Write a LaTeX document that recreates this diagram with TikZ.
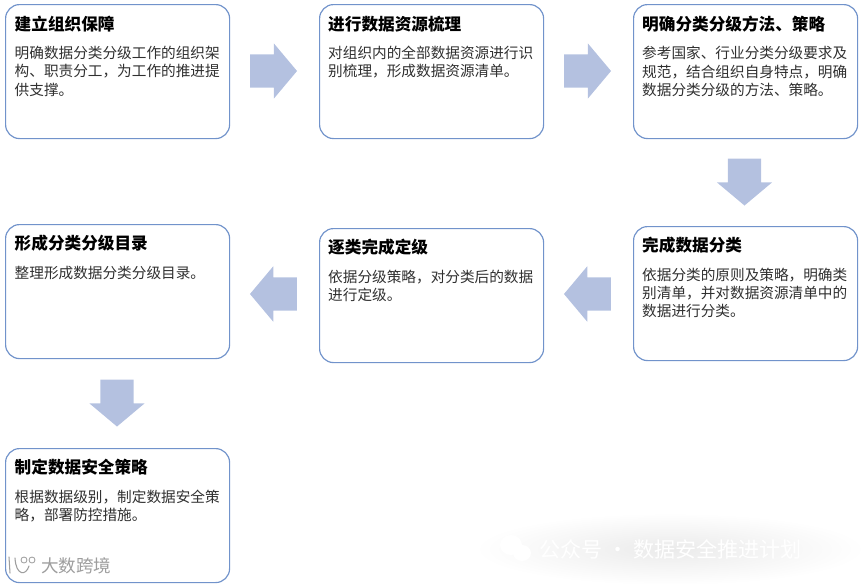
\documentclass[tikz,border=0pt]{standalone}
\usepackage{fontspec}
\setmainfont{Noto Sans CJK SC}
\usetikzlibrary{positioning,shapes.arrows}
\definecolor{BoxBlue}{HTML}{7193CB}
\definecolor{ArrowBlue}{HTML}{B4C1E0}
\definecolor{BodyGray}{HTML}{303030}
\tikzset{
  stepbox/.style={draw=BoxBlue,line width=1pt,fill=white,rounded corners=.42cm,
    minimum width=6.72cm,minimum height=4.02cm,inner sep=0pt,anchor=north west},
  steptitle/.style={font=\fontsize{14.2}{17}\selectfont\bfseries,inner sep=0pt,anchor=north west},
  stepbody/.style={font=\fontsize{12.5}{15.6}\selectfont,text=BodyGray,align=left,inner sep=0pt,anchor=north west},
  flowarrow/.style={single arrow,fill=ArrowBlue,draw=none,inner sep=0pt,
    text height=.99cm,text depth=0pt,text width=0pt,
    minimum height=1.41cm,single arrow head extend=.33cm,
    single arrow tip angle=100},
  markfaint/.style={inner sep=0pt,text=white,font=\fontsize{18}{20}\selectfont},
}
\begin{document}
\begin{tikzpicture}[x=.03cm,y=-.03cm,line cap=round,line join=round]
  \useasboundingbox (0,0) rectangle (863,583);

  % top row
  \node[stepbox] (organize) at (5,4) {};
  \node[stepbox] (inventory) at (319,4) {};
  \node[stepbox] (method) at (633,4) {};
  % middle row
  \node[stepbox] (classify) at (633,226) {};
  \node[stepbox] (grade) at (319,228) {};
  \node[stepbox] (catalog) at (5,224) {};
  % last box
  \node[stepbox] (policy) at (5,448) {};

  \node[steptitle] (organizetitle) at (14.5,15.5) {建立组织保障};
  \node[stepbody,below=.42cm of organizetitle.south west,anchor=north west] {明确数据分类分级工作的组织架\\构、职责分工，为工作的推进提\\供支撑。};
  \node[steptitle] (inventorytitle) at (328,15.5) {进行数据资源梳理};
  \node[stepbody,below=.42cm of inventorytitle.south west,anchor=north west] {对组织内的全部数据资源进行识\\别梳理，形成数据资源清单。};
  \node[steptitle] (methodtitle) at (642,15.5) {明确分类分级方法、策略};
  \node[stepbody,below=.42cm of methodtitle.south west,anchor=north west] {参考国家、行业分类分级要求及\\规范，结合组织自身特点，明确\\数据分类分级的方法、策略。};
  \node[steptitle] (classifytitle) at (642,237) {完成数据分类};
  \node[stepbody,below=.42cm of classifytitle.south west,anchor=north west] {依据分类的原则及策略，明确类\\别清单，并对数据资源清单中的\\数据进行分类。};
  \node[steptitle] (gradetitle) at (328,239) {逐类完成定级};
  \node[stepbody,below=.42cm of gradetitle.south west,anchor=north west] {依据分级策略，对分类后的数据\\进行定级。};
  \node[steptitle] (catalogtitle) at (14.5,235) {形成分类分级目录};
  \node[stepbody,below=.42cm of catalogtitle.south west,anchor=north west] {整理形成数据分类分级目录。};
  \node[steptitle] (policytitle) at (14.5,459) {制定数据安全策略};
  \node[stepbody,below=.42cm of policytitle.south west,anchor=north west] {根据数据级别，制定数据安全策\\略，部署防控措施。};

  % arrows between the boxes
  \node[flowarrow] (arrowa) at (266.5,71) {};
  \node[flowarrow] (arrowb) at (580.5,71) {};
  \node[flowarrow,rotate=-90] (arrowc) at (744.5,175) {};
  \node[flowarrow,rotate=180] (arrowd) at (594.5,294) {};
  \node[flowarrow,rotate=180] (arrowe) at (280.5,294) {};
  \node[flowarrow,rotate=-90] (arrowf) at (117,396) {};

  % watermarks
  \shade[inner color=black!8,outer color=white,draw=none] (670,549) ellipse (195 and 36);
  \node[markfaint,anchor=west] (markb) at (539,549) {公众号 · 数据安全推进计划};
  \fill[white] (511,545) ellipse (11 and 10) (522,553) ellipse (9 and 8);
  \node[inner sep=0pt,text=black!38,font=\fontsize{15}{17}\selectfont,anchor=west] (marka) at (41,566) {大数跨境};
  \draw[black!38,line width=.9pt] (9,557) -- (10,573) (15,558) .. controls (16,576) and (26,576) .. (29,566);
  \draw[black!38,line width=.7pt] (24,560) circle (3) (32,560) circle (3);
\end{tikzpicture}
\end{document}
